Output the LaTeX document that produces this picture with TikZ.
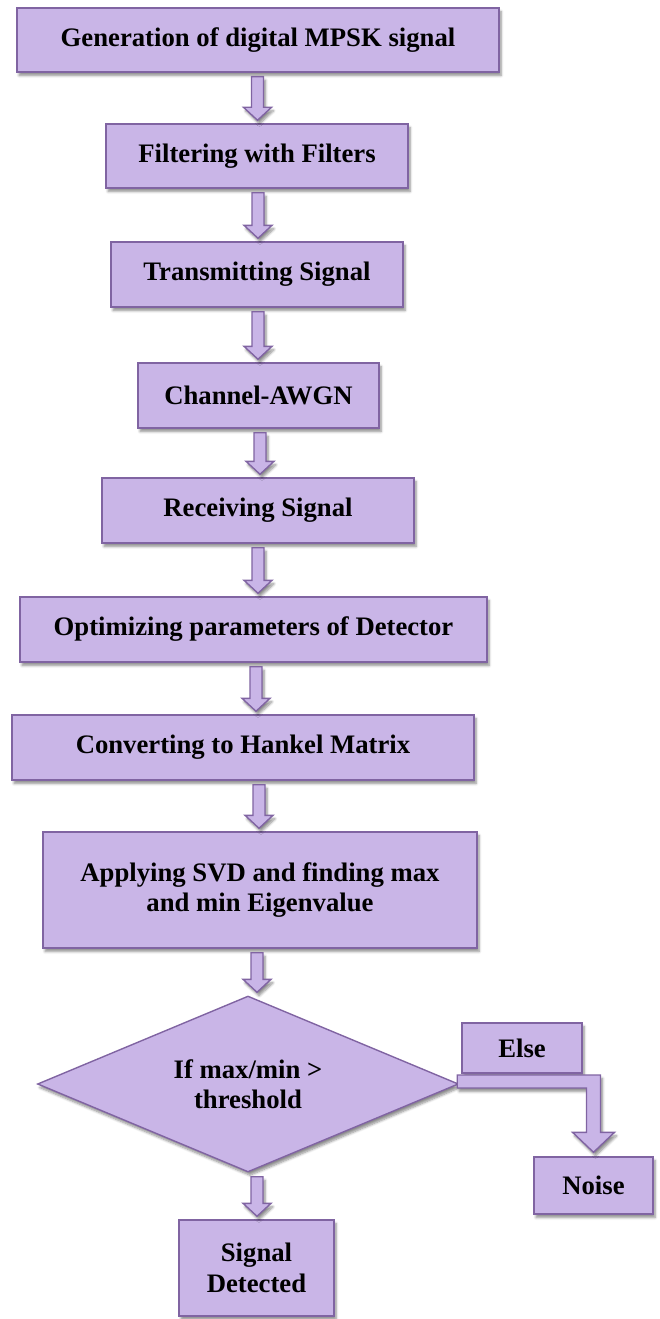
\documentclass[tikz,border=0pt]{standalone}
\usepackage{fontspec}
\setmainfont{Liberation Serif}
\usetikzlibrary{shapes.geometric,shadows.blur,calc}

\definecolor{boxfill}{HTML}{C9B5E7}
\definecolor{boxline}{HTML}{8064A2}

\tikzset{
  softshadow/.style={blur shadow={shadow xshift=2pt, shadow yshift=-3.5pt,
      shadow blur steps=6, shadow blur radius=2.5pt, shadow opacity=45}},
  stepbox/.style={draw=boxline, fill=boxfill, line width=1.4pt, softshadow,
      rectangle, inner sep=0pt, align=center,
      font=\fontsize{26.7}{30.5}\selectfont\bfseries},
  decision/.style={stepbox, diamond, aspect=2.39},
  blockarrow/.style={draw=boxline, fill=boxfill, line width=1.4pt, softshadow,
      line join=miter},
}

% hollow block arrow pointing down, at horizontal position #1 (px),
% from the bottom of node #2 to the top of node #3
\newcommand\blockdown[3]{%
  \path[blockarrow] let \p1=(#2.south), \p2=(#3.north) in
    ({#1pt-6pt},{\y1-4pt}) -- ({#1pt+6pt},{\y1-4pt}) --
    ({#1pt+6pt},{\y2+16pt}) -- ({#1pt+14pt},{\y2+16pt}) --
    ({#1pt},{\y2+3pt}) --
    ({#1pt-14pt},{\y2+16pt}) -- ({#1pt-6pt},{\y2+16pt}) -- cycle;}

\begin{document}
\begin{tikzpicture}[x=1pt,y=-1pt]
\useasboundingbox (0,0) rectangle (659,1319);

\node[stepbox, minimum width=482, minimum height=64] (gen) at (258,40)
  {Generation of digital MPSK signal};
\node[stepbox, minimum width=302, minimum height=64] (filt) at (257,156)
  {Filtering with Filters};
\node[stepbox, minimum width=292, minimum height=65] (tx) at (257,274.5)
  {Transmitting Signal};
\node[stepbox, minimum width=241, minimum height=65] (chan) at (258.5,395.5)
  {Channel-AWGN};
\node[stepbox, minimum width=312, minimum height=65] (rx) at (258,510.5)
  {Receiving Signal};
\node[stepbox, minimum width=467, minimum height=65] (opt) at (253.5,629.5)
  {Optimizing parameters of Detector};
\node[stepbox, minimum width=462, minimum height=65] (hank) at (243,747.5)
  {Converting to Hankel Matrix};
\node[stepbox, minimum width=434, minimum height=116] (svd) at (260,890)
  {Applying SVD and finding max\\and min Eigenvalue};
\node[decision, minimum width=421, minimum height=176] (test) at (248,1084)
  {If max/min >\\threshold};
\node[stepbox, minimum width=120, minimum height=50] (else) at (522,1048)
  {Else};
\node[stepbox, minimum width=119, minimum height=57] (noise) at (593.5,1185.5)
  {Noise};
\node[stepbox, minimum width=155, minimum height=96] (det) at (256.5,1268)
  {Signal\\Detected};

\blockdown{257.5}{gen}{filt}
\blockdown{258}{filt}{tx}
\blockdown{258}{tx}{chan}
\blockdown{260}{chan}{rx}
\blockdown{258}{rx}{opt}
\blockdown{256}{opt}{hank}
\blockdown{259}{hank}{svd}
\blockdown{257}{svd}{test}
\blockdown{257}{test}{det}

% elbow arrow from the right corner of the decision to the noise box
\path[blockarrow] let \p1=(test.east), \p2=(noise.north) in
  ({\x1-2pt},{\y1+9pt}) -- ({\x2+7pt},{\y1+9pt}) --
  ({\x2+7pt},{\y2+24pt}) -- ({\x2+21pt},{\y2+24pt}) --
  ({\x2},{\y2+4pt}) --
  ({\x2-21pt},{\y2+24pt}) -- ({\x2-7pt},{\y2+24pt}) --
  ({\x2-7pt},{\y1-4pt}) -- ({\x1-2pt},{\y1-4pt}) -- cycle;
\end{tikzpicture}
\end{document}
